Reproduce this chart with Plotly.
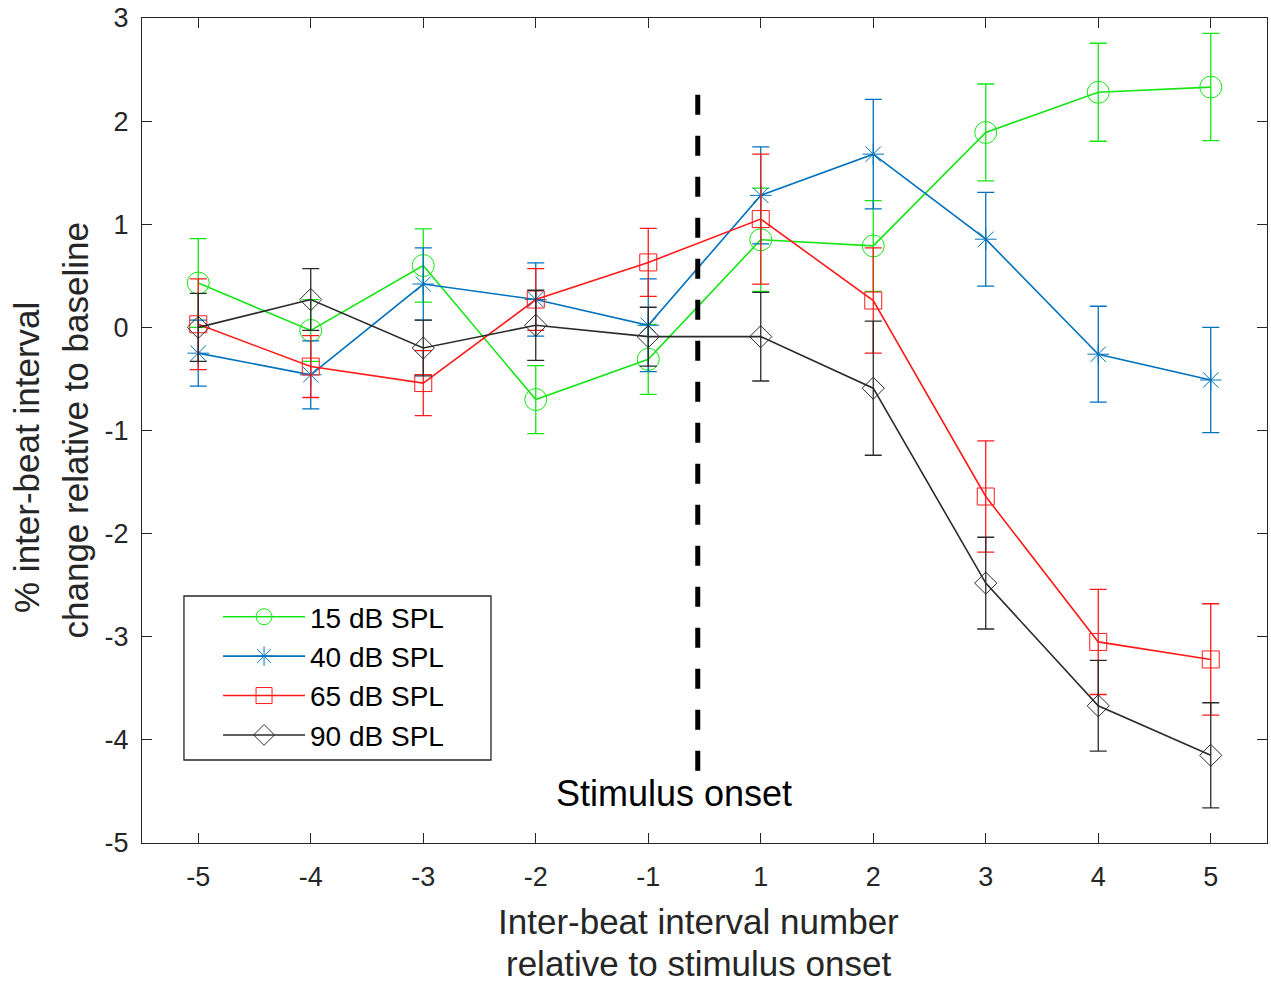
import plotly.graph_objects as go

# ---- data ----
tick_labels = ["-5", "-4", "-3", "-2", "-1", "1", "2", "3", "4", "5"]
positions = [1, 2, 3, 4, 5, 6, 7, 8, 9, 10]

series_names = ["15 dB SPL", "40 dB SPL", "65 dB SPL", "90 dB SPL"]

db15 = [0.43, -0.03, 0.60, -0.70, -0.31, 0.85, 0.79, 1.89, 2.28, 2.33]
db15_err = [0.43, 0.30, 0.355, 0.33, 0.34, 0.50, 0.44, 0.47, 0.475, 0.52]

db40 = [-0.25, -0.46, 0.42, 0.27, 0.02, 1.28, 1.68, 0.855, -0.26, -0.51]
db40_err = [0.32, 0.33, 0.35, 0.355, 0.45, 0.47, 0.53, 0.455, 0.465, 0.51]

db65 = [0.03, -0.38, -0.54, 0.27, 0.63, 1.05, 0.26, -1.64, -3.05, -3.22]
db65_err = [0.44, 0.30, 0.315, 0.30, 0.33, 0.63, 0.51, 0.54, 0.51, 0.54]

db90 = [0.0, 0.27, -0.20, 0.02, -0.09, -0.09, -0.59, -2.48, -3.67, -4.15]
db90_err = [0.33, 0.30, 0.27, 0.34, 0.285, 0.43, 0.65, 0.445, 0.44, 0.51]

onset_x = [5.44, 5.44]
onset_y = [-4.3, 2.35]

y_ticks = [-5, -4, -3, -2, -1, 0, 1, 2, 3]
y_tick_labels = ["-5", "-4", "-3", "-2", "-1", "0", "1", "2", "3"]

# ---- styles ----
FONT = "Liberation Sans, Arial, Helvetica, sans-serif"
AX = "#262626"
styles = [
    dict(color="#14e614", symbol="circle-open", size=22),
    dict(color="#0072bd", symbol="asterisk-open", size=18),
    dict(color="#ff1a1a", symbol="square-open", size=17),
    dict(color="#2b2b2b", symbol="diamond-open", size=17),
]
values = [db15, db40, db65, db90]
errors = [db15_err, db40_err, db65_err, db90_err]

fig = go.Figure()
for name, vals, errs, st in zip(series_names, values, errors, styles):
    fig.add_trace(go.Scatter(
        x=positions, y=vals, name=name, mode="lines+markers",
        line=dict(color=st["color"], width=1.6),
        marker=dict(symbol=st["symbol"], size=st["size"], color=st["color"],
                    line=dict(color=st["color"], width=1)),
        error_y=dict(type="data", array=errs, visible=True, color=st["color"],
                     thickness=1.3, width=8.5),
    ))

fig.add_trace(go.Scatter(
    x=onset_x, y=onset_y, mode="lines", showlegend=False, hoverinfo="skip",
    line=dict(color="black", width=5, dash="20px,21px"),
))

fig.add_annotation(x=5.23, y=-4.52, xref="x", yref="y", text="Stimulus onset",
                   showarrow=False, font=dict(family=FONT, size=36, color="black"),
                   xanchor="center", yanchor="middle")

# axis titles
fig.add_annotation(x=0, y=0.4667, xref="paper", yref="paper", xshift=-115,
                   text="% inter-beat interval", textangle=-90, showarrow=False,
                   font=dict(family=FONT, size=35, color=AX),
                   xanchor="center", yanchor="middle")
fig.add_annotation(x=0, y=0.5, xref="paper", yref="paper", xshift=-67,
                   text="change relative to baseline", textangle=-90, showarrow=False,
                   font=dict(family=FONT, size=35, color=AX),
                   xanchor="center", yanchor="middle")
fig.add_annotation(x=0.4951, y=0, xref="paper", yref="paper", yshift=-78,
                   text="Inter-beat interval number", showarrow=False,
                   font=dict(family=FONT, size=35, color=AX),
                   xanchor="center", yanchor="middle")
fig.add_annotation(x=0.4951, y=0, xref="paper", yref="paper", yshift=-120,
                   text="relative to stimulus onset", showarrow=False,
                   font=dict(family=FONT, size=35, color=AX),
                   xanchor="center", yanchor="middle")

# legend frame
fig.add_shape(type="rect", xref="paper", yref="paper",
              x0=0.0373, x1=0.3102, y0=0.1006, y1=0.2994,
              line=dict(color=AX, width=1.3), fillcolor="white", layer="below")

fig.update_layout(
    width=1271, height=983,
    margin=dict(l=142, r=4, t=18, b=140),
    paper_bgcolor="white", plot_bgcolor="white",
    font=dict(family=FONT, color=AX),
    showlegend=True,
    legend=dict(
        x=0.0676, y=0.3042, xanchor="left", yanchor="top",
        bgcolor="rgba(0,0,0,0)", borderwidth=0,
        font=dict(family=FONT, size=28, color="black"),
        itemwidth=82, tracegroupgap=0,
    ),
    xaxis=dict(
        range=[0.5, 10.5], tickmode="array", tickvals=positions, ticktext=tick_labels,
        ticks="inside", ticklen=10, tickwidth=1.3, tickcolor=AX,
        showline=True, linecolor=AX, linewidth=1.3, mirror="ticks",
        showgrid=False, zeroline=False, ticklabelstandoff=9,
        tickfont=dict(family=FONT, size=27, color=AX),
    ),
    yaxis=dict(
        range=[-5, 3], tickmode="array", tickvals=y_ticks, ticktext=y_tick_labels,
        ticks="inside", ticklen=10, tickwidth=1.3, tickcolor=AX,
        showline=True, linecolor=AX, linewidth=1.3, mirror="ticks",
        showgrid=False, zeroline=False, ticklabelstandoff=7,
        tickfont=dict(family=FONT, size=27, color=AX),
    ),
)

fig.write_html("out.html", config={"displayModeBar": False},
               post_script="document.body.style.margin='0';document.body.style.overflow='hidden';")
